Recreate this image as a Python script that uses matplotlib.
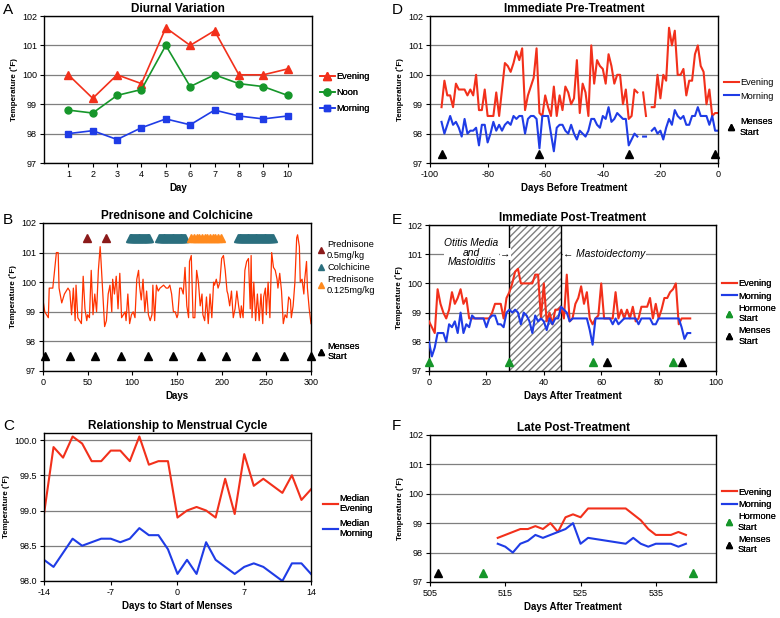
import numpy as np
import matplotlib
matplotlib.use('Agg')
import matplotlib.pyplot as plt
from matplotlib.lines import Line2D
from matplotlib.ticker import FormatStrFormatter

plt.rcParams['font.family'] = ['Liberation Sans', 'DejaVu Sans']
plt.rcParams['axes.unicode_minus'] = False

RED = '#f2301b'
BLUE = '#1f3ce6'
GREEN = '#16962a'
GRID = '#7f7f7f'
TEAL = '#2b6f7e'
DARKRED = '#8b1a1a'
ORANGE = '#ff8a1e'

# ---------- A: diurnal variation ----------
diurnal_days = [1, 2, 3, 4, 5, 6, 7, 8, 9, 10]
diurnal_evening = [100.0, 99.2, 100.0, 99.7, 101.6, 101.0, 101.5, 100.0, 100.0, 100.2]
diurnal_noon = [98.8, 98.7, 99.3, 99.5, 101.0, 99.6, 100.0, 99.7, 99.6, 99.3]
diurnal_morning = [98.0, 98.1, 97.8, 98.2, 98.5, 98.3, 98.8, 98.6, 98.5, 98.6]

# ---------- B: prednisone and colchicine ----------
pc_days = [0, 2, 4, 6, 7, 11, 15, 17, 18, 21, 24, 28, 30, 32, 34, 36, 37, 39, 43, 45,
           47, 49, 50, 52, 54, 56, 58, 60, 62, 64, 65, 67, 69, 71, 73, 75, 77, 78, 80, 82,
           84, 86, 88, 90, 92, 93, 95, 97, 99, 101, 103, 105, 107, 108, 110, 112, 114, 116, 118, 120,
           122, 123, 125, 127, 129, 131, 135, 138, 140, 142, 144, 146, 148, 150, 151, 153, 155, 157, 159, 161,
           163, 164, 166, 168, 170, 172, 174, 176, 178, 179, 181, 183, 185, 187, 189, 191, 192, 194, 196, 198,
           200, 202, 204, 206, 207, 209, 211, 213, 215, 217, 219, 221, 222, 224, 226, 228, 230, 232, 233, 234,
           236, 238, 240, 242, 244, 246, 247, 249, 250, 252, 254, 256, 258, 260, 262, 263, 265, 267, 269, 271,
           273, 275, 277, 278, 280, 282, 284, 285, 287, 288, 290, 292, 293, 295, 296, 298, 300]
pc_temp = [99.4, 99.0, 98.9, 98.8, 99.8, 99.8, 101.0, 101.0, 99.8, 99.3, 99.6, 99.8, 99.7, 98.9, 99.8, 98.7, 99.9, 98.8, 98.6, 100.2,
           99.1, 98.7, 98.9, 98.8, 100.4, 98.9, 99.6, 99.0, 100.4, 101.2, 100.7, 99.6, 98.5, 98.7, 99.6, 99.9, 99.0, 100.1, 99.6, 100.2,
           99.1, 100.3, 98.8, 98.9, 99.0, 98.7, 99.6, 98.6, 98.9, 99.0, 98.8, 100.1, 100.4, 99.9, 99.4, 100.1, 99.0, 99.7, 98.9, 98.7,
           98.9, 99.9, 98.7, 99.9, 99.7, 99.8, 99.9, 99.8, 99.8, 99.9, 99.6, 99.0, 99.0, 98.8, 98.9, 99.8, 99.8, 99.6, 100.5, 99.2,
           98.8, 100.7, 100.9, 98.8, 98.8, 100.4, 100.0, 99.2, 99.6, 98.9, 98.7, 99.5, 98.6, 99.6, 98.8, 100.0, 99.9, 100.1, 99.8, 100.0,
           100.8, 100.9, 100.4, 99.7, 99.6, 99.2, 99.7, 98.8, 99.1, 99.7, 99.2, 98.8, 99.2, 98.8, 100.4, 100.7, 100.8, 99.1, 100.9, 98.8,
           100.0, 98.7, 99.6, 98.7, 99.6, 98.6, 99.5, 99.8, 98.9, 100.0, 98.8, 101.0, 100.5, 100.4, 100.1, 99.8, 100.3, 99.7, 98.6, 98.9,
           98.8, 99.5, 99.4, 98.8, 99.2, 100.0, 101.5, 101.6, 101.2, 100.0, 100.1, 99.6, 100.1, 100.7, 99.8, 99.1, 98.6]
pred_high_days = [49, 70]
colchicine_courses = [(97, 119), (130, 159), (218, 257)]
pred_low_days = [166, 169, 172, 175, 178, 181, 184, 187, 190, 193, 196, 199]
pc_menses_days = [2, 30, 58, 87, 118, 146, 177, 205, 239, 270, 300]

# ---------- C: relationship to menstrual cycle ----------
cycle_days = list(range(-14, 15))
cycle_evening = [98.95, 99.9, 99.75, 100.05, 99.95, 99.7, 99.7, 99.85, 99.85, 99.7,
                 100.05, 99.65, 99.7, 99.7, 98.9, 99.0, 99.05, 99.0, 98.9, 99.45,
                 98.95, 99.8, 99.35, 99.45, 99.35, 99.25, 99.5, 99.15, 99.3]
cycle_morning = [98.3, 98.2, 98.4, 98.6, 98.5, 98.55, 98.6, 98.6, 98.55, 98.6,
                 98.75, 98.65, 98.65, 98.45, 98.1, 98.3, 98.1, 98.55, 98.3, 98.2,
                 98.1, 98.2, 98.25, 98.2, 98.1, 98.0, 98.25, 98.25, 98.1]

# ---------- D: immediate pre-treatment ----------
nan = np.nan
pre_days = list(range(-96, 1))
pre_evening = [98.9, 99.8, 99.3, 99.3, 98.9, 99.7, 99.5, 99.5, 99.5, 99.3,
               99.5, 99.3, 100.0, 98.8, 98.8, 99.5, 98.6, 98.6, 98.6, 99.4,
               98.6, 99.5, 100.4, 100.3, 100.1, 100.4, 100.8, 100.5, 100.9, 98.8,
               99.3, 99.6, 99.9, 100.9, 98.7, 98.6, 99.3, 98.9, 98.6, 99.6,
               98.6, 99.3, 98.8, 99.6, 99.4, 99.0, 99.2, 100.5, 98.7, 99.7,
               99.4, 98.6, 101.0, 99.7, 100.5, 100.3, 100.2, 99.7, 100.7, 100.3,
               99.7, 100.0, 100.0, 99.0, 99.5, 98.5, 98.6, 99.5, 99.4, nan,
               99.4, 98.6, nan, 98.9, 98.9, 100.0, 99.2, 100.0, 99.8, 101.6,
               101.0, 101.5, 100.0, 100.0, 100.2, 99.3, 99.8, 99.8, 100.7, 101.0,
               100.3, 100.1, 99.0, 99.5, 98.6, 98.7, 98.7]
pre_morning = [98.4, 98.0, 98.3, 98.6, 98.3, 98.4, 98.2, 97.9, 98.5, 98.0,
               98.1, 98.1, 98.2, 97.6, 98.3, 98.3, 97.7, 98.0, 98.4, 98.1,
               98.3, 98.1, 98.3, 98.4, 98.3, 98.6, 98.5, 98.6, 98.6, 98.0,
               98.5, 98.6, 98.6, 98.5, 97.5, 98.6, 98.6, 98.6, 98.0, 97.4,
               98.2, 98.3, 98.3, 98.1, 98.0, 98.3, 98.0, 97.8, 98.1, 98.0,
               97.9, 98.1, 98.5, 98.5, 98.3, 98.2, 98.6, 98.5, 98.9, 98.4,
               98.5, 98.7, 98.6, 98.5, 98.5, 97.6, 97.8, 98.0, 97.9, nan,
               97.9, 97.9, nan, 98.1, 98.2, 98.0, 98.1, 97.8, 98.2, 98.5,
               98.3, 98.8, 98.6, 98.5, 98.6, 98.3, 98.3, 98.6, 98.6, 98.9,
               98.6, 98.6, 98.6, 98.3, 98.6, 98.1, 98.1]
pre_menses_days = [-96, -62, -31, -1]

# ---------- E: immediate post-treatment ----------
post_days = list(range(0, 92))
post_evening = [98.7, 98.5, 98.3, 99.8, 99.3, 99.0, 98.8, 99.1, 99.7, 99.3,
                99.5, 99.8, 99.3, 99.5, 98.8, 98.8, 98.8, 98.8, 98.8, 98.8,
                98.8, 98.8, 99.0, 99.3, 99.3, 99.3, 98.8, 99.5, 99.7, 100.0,
                100.4, 100.5, 100.0, 100.0, 100.0, 100.0, 100.0, 100.3, 100.3, 98.8,
                100.0, 98.7, 99.0, 98.6, 99.1, 99.1, 99.2, 98.8, 100.3, 98.7,
                98.8, 99.3, 99.5, 99.9, 99.3, 99.7, 98.8, 98.6, 98.8, 98.9,
                100.0, 98.8, 98.8, 98.8, 98.8, 99.7, 98.8, 99.1, 98.8, 99.1,
                98.8, 99.2, 98.7, 98.8, 99.2, 99.2, 99.2, 99.5, 98.8, 99.3,
                98.8, 99.1, 99.5, 99.5, 99.7, 99.8, 100.0, 98.6, 98.8, 98.8,
                98.8, 98.8]
post_morning = [98.0, 97.5, 97.8, 98.3, 98.3, 98.3, 98.0, 98.6, 98.5, 98.7,
                98.3, 99.0, 98.3, 98.6, 98.5, 98.9, 98.8, 98.8, 98.8, 98.8,
                98.5, 98.8, 98.9, 98.9, 98.6, 98.6, 98.5, 99.0, 99.1, 99.0,
                99.1, 99.0, 98.6, 99.0, 98.9, 98.7, 98.3, 98.9, 98.7, 98.8,
                98.7, 98.4, 98.8, 98.6, 98.8, 98.8, 99.2, 99.1, 99.0, 98.7,
                98.8, 98.8, 98.8, 98.8, 98.8, 98.8, 98.4, 97.9, 98.8, 98.8,
                98.8, 98.8, 98.8, 98.8, 98.6, 98.8, 98.6, 98.7, 98.8, 98.8,
                98.8, 98.8, 98.8, 98.6, 98.8, 98.8, 98.8, 98.8, 98.6, 98.6,
                98.8, 98.8, 98.8, 98.8, 98.8, 98.8, 98.8, 98.8, 98.5, 98.1,
                98.3, 98.3]
post_hormone_days = [0, 28, 57, 85]
post_menses_days = [62, 88]
illness_span = (28, 46)

# ---------- F: late post-treatment ----------
late_days = [514, 515, 516, 517, 518, 519, 520, 521, 522, 523, 524, 525, 526,
             531, 532, 533, 534, 535, 536, 537, 538, 539]
late_evening = [98.5, 98.6, 98.7, 98.8, 98.8, 98.9, 98.8, 99.0, 98.7, 99.2, 99.3, 99.2, 99.5,
                99.5, 99.3, 99.1, 98.8, 98.6, 98.6, 98.6, 98.7, 98.6]
late_morning = [98.3, 98.2, 98.0, 98.3, 98.4, 98.6, 98.5, 98.6, 98.7, 98.8, 99.0, 98.3, 98.5,
                98.3, 98.5, 98.3, 98.2, 98.3, 98.3, 98.3, 98.2, 98.3]
late_hormone_days = [512, 540]
late_menses_days = [506]

MARK_Y = 97.3


def setup(ax, title, xlabel, xlim, xticks, ylim, yticks):
    ax.set_xlim(xlim)
    ax.set_ylim(ylim)
    ax.set_xticks(xticks)
    ax.set_yticks(yticks)
    ax.yaxis.grid(True, color=GRID, lw=0.9)
    ax.set_axisbelow(True)
    ax.set_title(title, fontsize=8.5, fontweight='bold', pad=3)
    ax.set_xlabel(xlabel, fontsize=7, fontweight='bold', labelpad=3)
    ax.set_ylabel('Temperature (˚F)', fontsize=5.8, fontweight='bold', labelpad=3)
    ax.tick_params(labelsize=6.5, direction='out', length=3, width=0.8, pad=2)
    for s in ax.spines.values():
        s.set_linewidth(1.0)


def tri(color):
    return Line2D([], [], marker='^', linestyle='none', color=color, markersize=5)


def legend(ax, handles, labels, y, x=1.02, hl=1.6, spacing=0.45):
    leg = ax.legend(handles, labels, loc='center left', bbox_to_anchor=(x, y),
                    frameon=False, fontsize=6.7, handlelength=hl, handletextpad=0.15,
                    labelspacing=spacing, borderaxespad=0, borderpad=0)
    ax.add_artist(leg)
    return leg


fig = plt.figure(figsize=(7.8, 6.18), dpi=100)

axA = fig.add_axes([0.0564, 0.7362, 0.3436, 0.2379])
axB = fig.add_axes([0.0551, 0.3997, 0.3436, 0.2395])
axC = fig.add_axes([0.0564, 0.0599, 0.3423, 0.2395])
axD = fig.add_axes([0.5513, 0.7362, 0.3692, 0.2379])
axE = fig.add_axes([0.5500, 0.3997, 0.3680, 0.2362])
axF = fig.add_axes([0.5513, 0.0583, 0.3667, 0.2379])

temp_ticks = [97, 98, 99, 100, 101, 102]

# A
setup(axA, 'Diurnal Variation', 'Day', (0, 11), diurnal_days, (97, 102), temp_ticks)
hE, = axA.plot(diurnal_days, diurnal_evening, color=RED, marker='^', ms=5.5, lw=1.2)
hN, = axA.plot(diurnal_days, diurnal_noon, color=GREEN, marker='o', ms=5, lw=1.2)
hM, = axA.plot(diurnal_days, diurnal_morning, color=BLUE, marker='s', ms=5, lw=1.2)
legend(axA, [hE, hN, hM], ['Evening', 'Noon', 'Morning'], 0.48, x=1.03, spacing=0.75)

# B
setup(axB, 'Prednisone and Colchicine', 'Days', (0, 300), range(0, 301, 50), (97, 102), temp_ticks)
axB.plot(pc_days, pc_temp, color='#ff3300', lw=0.9)
axB.plot(pred_high_days, [101.5] * len(pred_high_days), '^', color=DARKRED, ms=5.5)
for start, end in colchicine_courses:
    d = np.arange(start, end + 1)
    axB.plot(d, [101.5] * len(d), '^', color=TEAL, ms=5.5)
axB.plot(pred_low_days, [101.5] * len(pred_low_days), '^', color=ORANGE, ms=5.5)
axB.plot(pc_menses_days, [97.5] * len(pc_menses_days), '^', color='black', ms=5.5, clip_on=False)
legend(axB, [tri(DARKRED), tri(TEAL), tri(ORANGE)],
       ['Prednisone\n0.5mg/kg', 'Colchicine', 'Prednisone\n0.125mg/kg'], 0.70, hl=1.0, spacing=0.35)
legend(axB, [tri('black')], ['Menses\nStart'], 0.13, hl=1.0)

# C
setup(axC, 'Relationship to Menstrual Cycle', 'Days to Start of Menses', (-14, 14), [-14, -7, 0, 7, 14],
      (98.0, 100.1), [98.0, 98.5, 99.0, 99.5, 100.0])
axC.yaxis.set_major_formatter(FormatStrFormatter('%.1f'))
hCe, = axC.plot(cycle_days, cycle_evening, color=RED, lw=1.5)
hCm, = axC.plot(cycle_days, cycle_morning, color=BLUE, lw=1.5)
legend(axC, [hCe, hCm], ['Median\nEvening', 'Median\nMorning'], 0.44, x=1.045, spacing=0.6)

# D
setup(axD, 'Immediate Pre-Treatment', 'Days Before Treatment', (-100, 0), range(-100, 1, 20), (97, 102), temp_ticks)
hDe, = axD.plot(pre_days, pre_evening, color=RED, lw=1.5)
hDm, = axD.plot(pre_days, pre_morning, color=BLUE, lw=1.5)
axD.plot(pre_menses_days, [MARK_Y] * len(pre_menses_days), '^', color='black', ms=5.5, clip_on=False)
legend(axD, [hDe, hDm], ['Evening', 'Morning'], 0.50)
legend(axD, [tri('black')], ['Menses\nStart'], 0.245)

# E
setup(axE, 'Immediate Post-Treatment', 'Days After Treatment', (0, 100), range(0, 101, 20), (97, 102), temp_ticks)
axE.axvspan(illness_span[0], illness_span[1], facecolor='white', edgecolor='#808080',
            hatch='/////', lw=0, zorder=1)
axE.axvline(illness_span[0], color='black', lw=1, zorder=1.5)
axE.axvline(illness_span[1], color='black', lw=1, zorder=1.5)
box = dict(facecolor='white', edgecolor='none', pad=0.5)
axE.text(14.8, 101.05, 'Otitis Media\nand\nMastoiditis', style='italic', fontsize=7.4,
         ha='center', va='center', linespacing=0.95, bbox=box, zorder=2)
axE.text(26.6, 101.0, '→', fontsize=7.4, ha='center', va='center', bbox=box, zorder=2)
axE.text(46.8, 101.0, '← Mastoidectomy', style='italic', fontsize=7.4, ha='left', va='center',
         bbox=box, zorder=2)
hEe, = axE.plot(post_days, post_evening, color=RED, lw=1.5, zorder=3)
hEm, = axE.plot(post_days, post_morning, color=BLUE, lw=1.5, zorder=3)
axE.plot(post_hormone_days, [MARK_Y] * len(post_hormone_days), '^', color=GREEN, ms=5.5, clip_on=False, zorder=4)
axE.plot(post_menses_days, [MARK_Y] * len(post_menses_days), '^', color='black', ms=5.5, clip_on=False, zorder=4)
legend(axE, [hEe, hEm, tri(GREEN), tri('black')],
       ['Evening', 'Morning', 'Hormone\nStart', 'Menses\nStart'], 0.40, spacing=0.35)

# F
setup(axF, 'Late Post-Treatment', 'Days After Treatment', (505, 543), [505, 515, 525, 535], (97, 102), temp_ticks)
hFe, = axF.plot(late_days, late_evening, color=RED, lw=1.5)
hFm, = axF.plot(late_days, late_morning, color=BLUE, lw=1.5)
axF.plot(late_hormone_days, [MARK_Y] * len(late_hormone_days), '^', color=GREEN, ms=5.5)
axF.plot(late_menses_days, [MARK_Y] * len(late_menses_days), '^', color='black', ms=5.5)
legend(axF, [hFe, hFm, tri(GREEN), tri('black')],
       ['Evening', 'Morning', 'Hormone\nStart', 'Menses\nStart'], 0.415, spacing=0.35)

# panel letters
for letter, x, y in [('A', 0.004, 0.995), ('B', 0.004, 0.655), ('C', 0.004, 0.322),
                     ('D', 0.502, 0.995), ('E', 0.502, 0.655), ('F', 0.502, 0.322)]:
    fig.text(x, y, letter, fontsize=11, va='top', ha='left')

fig.savefig('out.png', dpi=100)
